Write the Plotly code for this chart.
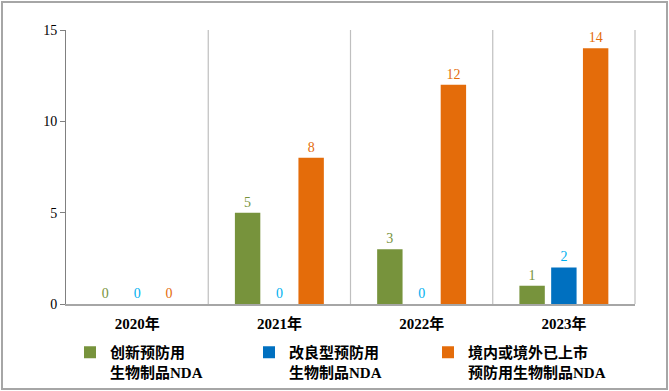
import plotly.graph_objects as go

categories = ["2020年", "2021年", "2022年", "2023年"]
series_names = ["创新预防用<br>生物制品NDA", "改良型预防用<br>生物制品NDA", "境内或境外已上市<br>预防用生物制品NDA"]
innovative = [0, 5, 3, 1]
improved = [0, 0, 0, 2]
marketed = [0, 8, 12, 14]
y_ticks = [0, 5, 10, 15]

bar_colors = ["#77933C", "#0070C0", "#E46C0A"]
text_colors = ["#77933C", "#00B0F0", "#E46C0A"]
serif = "Liberation Serif, Noto Sans CJK SC"

fig = go.Figure()
for name, vals, bc, tc in zip(series_names, [innovative, improved, marketed], bar_colors, text_colors):
    fig.add_trace(go.Bar(
        x=categories, y=vals, name=name,
        marker=dict(color=bc, line=dict(width=0)),
        text=[str(v) for v in vals], textposition="outside",
        textfont=dict(family=serif, size=14, color=tc),
        cliponaxis=False,
    ))

W, H = 669, 391
L, R, T, B = 66, 34, 30, 87
pw, ph = W - L - R, H - T - B

def px_x(p):
    return (p - L) / pw

def px_y(p):
    return (H - B - p) / ph

shapes = [
    dict(type="rect", xref="paper", yref="paper",
         x0=px_x(2), x1=px_x(667), y0=px_y(389), y1=px_y(2),
         line=dict(color="#A6A6A6", width=2), fillcolor="rgba(0,0,0,0)", layer="below"),
]
for i in range(len(categories) - 1):
    shapes.append(dict(type="line", xref="x", yref="paper", x0=i + 0.5, x1=i + 0.5, y0=0, y1=1,
                       line=dict(color="#BFBFBF", width=1.2), layer="below"))
shapes.append(dict(type="line", xref="paper", yref="paper", x0=1, x1=1, y0=0, y1=1,
                   line=dict(color="#D9D9D9", width=2), layer="below"))

fig.update_layout(
    width=W, height=H,
    margin=dict(l=L, r=R, t=T, b=B, autoexpand=False),
    paper_bgcolor="white", plot_bgcolor="white",
    barmode="group", bargap=0.33, bargroupgap=0.2,
    showlegend=True,
    legend=dict(orientation="h", x=px_x(70), y=px_y(336), xanchor="left", yanchor="top",
                font=dict(family=serif, size=15, color="#000000", weight="bold"),
                entrywidth=134, entrywidthmode="pixels", valign="top",
                itemwidth=30, tracegroupgap=0, bgcolor="rgba(0,0,0,0)"),
    xaxis=dict(showgrid=False, showline=True, linecolor="#A6A6A6", linewidth=2,
               ticks="", ticklabelstandoff=5,
               tickfont=dict(family=serif, size=15, color="#000000", weight="bold"),
               zeroline=False),
    yaxis=dict(range=[0, 15], tickvals=y_ticks, showgrid=False, showline=True,
               linecolor="#808080", linewidth=1, ticks="outside", ticklen=5, tickcolor="#808080",
               tickfont=dict(family=serif, size=14, color="#000000"), zeroline=False),
    shapes=shapes,
)

fig.write_html("out.html", config={"displayModeBar": False},
               post_script="document.body.style.margin='0';document.body.style.overflow='hidden';")
